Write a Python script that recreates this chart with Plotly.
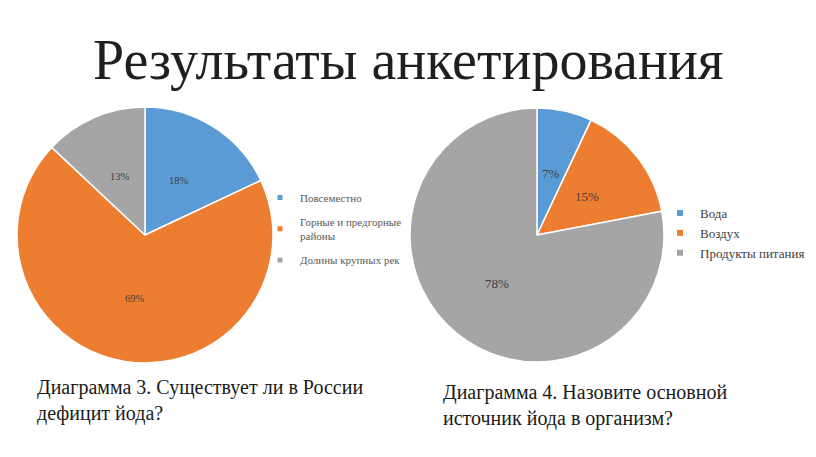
import math
import plotly.graph_objects as go

W, H = 816, 457

title = "Результаты анкетирования"

labels1 = ["Повсеместно", "Горные и предгорные<br>районы", "Долины крупных рек"]
values1 = [18, 69, 13]
caption1 = "Диаграмма 3. Существует ли в России<br>дефицит йода?"

labels2 = ["Вода", "Воздух", "Продукты питания"]
values2 = [7, 15, 78]
caption2 = "Диаграмма 4. Назовите основной<br>источник йода в организм?"

colors = ["#5B9BD5", "#ED7D31", "#A5A5A5"]
SERIF = "Liberation Serif"

# pie geometry (pixels)
pie1_c, pie1_r = (145, 235), 128
pie2_c, pie2_r = (537, 235), 127


def domain(c, r):
    cx, cy = c
    return dict(x=[(cx - r) / W, (cx + r) / W], y=[1 - (cy + r) / H, 1 - (cy - r) / H])


fig = go.Figure()

for vals, labs, c, r in [(values1, labels1, pie1_c, pie1_r), (values2, labels2, pie2_c, pie2_r)]:
    fig.add_trace(go.Pie(
        values=vals, labels=labs, sort=False, direction="clockwise", rotation=0,
        marker=dict(colors=colors, line=dict(color="white", width=1.5)),
        textinfo="none", hoverinfo="label+percent", showlegend=False,
        domain=domain(c, r),
    ))

# legend entries (small square markers)
for i, lab in enumerate(labels1):
    fig.add_trace(go.Scatter(x=[None], y=[None], mode="markers", name=lab,
                             marker=dict(symbol="square", size=5, color=colors[i]),
                             legend="legend", legendgroup="a%d" % i, showlegend=True))
for i, lab in enumerate(labels2):
    fig.add_trace(go.Scatter(x=[None], y=[None], mode="markers", name=lab,
                             marker=dict(symbol="square", size=6, color=colors[i]),
                             legend="legend2", legendgroup="b%d" % i, showlegend=True))

# percentage labels at half radius along slice bisector
annotations = []
for vals, c, r, fs in [(values1, pie1_c, pie1_r, 10.5), (values2, pie2_c, pie2_r, 13)]:
    total = sum(vals)
    cum = 0
    for v in vals:
        th = 2 * math.pi * (cum + v / 2) / total
        cum += v
        px = c[0] + 0.5 * r * math.sin(th)
        py = c[1] - 0.5 * r * math.cos(th)
        annotations.append(dict(x=px / W, y=1 - py / H, xref="paper", yref="paper",
                                xanchor="center", yanchor="middle",
                                text="%d%%" % round(100 * v / total), showarrow=False,
                                font=dict(family=SERIF, size=fs, color="#404040")))

annotations.append(dict(x=0.5, y=1 - 60 / H, xref="paper", yref="paper", text=title,
                        xanchor="center", yanchor="middle",
                        showarrow=False, font=dict(family=SERIF, size=56, color="#1f1f1f")))
annotations.append(dict(x=35 / W, y=1 - 400 / H, xref="paper", yref="paper", text=caption1,
                        showarrow=False, xanchor="left", yanchor="middle", align="left",
                        font=dict(family=SERIF, size=20, color="#1a1a1a")))
annotations.append(dict(x=441 / W, y=1 - 405 / H, xref="paper", yref="paper", text=caption2,
                        showarrow=False, xanchor="left", yanchor="middle", align="left",
                        font=dict(family=SERIF, size=20, color="#1a1a1a")))

fig.update_layout(
    width=W, height=H, margin=dict(l=0, r=0, t=0, b=0),
    paper_bgcolor="white", plot_bgcolor="white",
    xaxis=dict(visible=False, domain=[0, 0.01]), yaxis=dict(visible=False, domain=[0, 0.01]),
    annotations=annotations,
    legend=dict(x=260 / W, y=1 - 183 / H, xanchor="left", yanchor="top",
                font=dict(family=SERIF, size=11, color="#595959"),
                tracegroupgap=6, bgcolor="rgba(0,0,0,0)"),
    legend2=dict(x=660 / W, y=1 - 198 / H, xanchor="left", yanchor="top",
                 font=dict(family=SERIF, size=13, color="#404040"),
                 tracegroupgap=0, bgcolor="rgba(0,0,0,0)"),
)

fig.write_html("out.html")
